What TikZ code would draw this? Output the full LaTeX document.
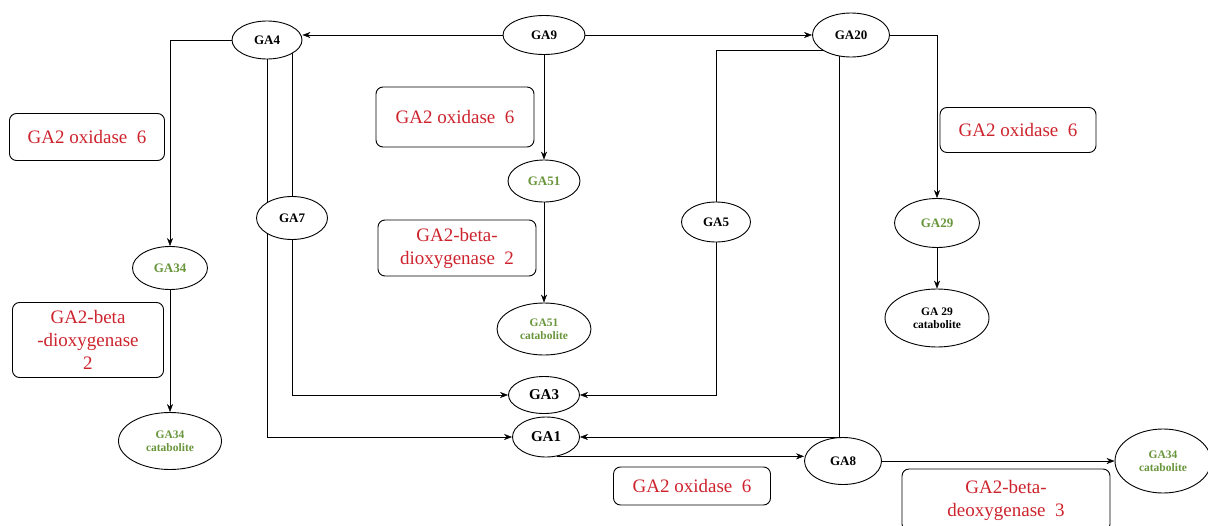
\documentclass[tikz,border=0pt]{standalone}
\usepackage{fontspec}
\setmainfont{Liberation Serif}
\usetikzlibrary{shapes.geometric,arrows.meta,backgrounds}
\definecolor{enzred}{RGB}{205,35,45}
\definecolor{gagreen}{RGB}{105,150,60}

\begin{document}
\begin{tikzpicture}[
    x=1pt, y=-1pt, >={Stealth[length=8pt,width=6pt]}, line width=0.9pt,
    ga/.style={draw, ellipse, fill=white, inner sep=0pt, align=center,
      font=\fontsize{13}{14}\selectfont\bfseries, minimum width=72pt, minimum height=42pt},
    gabig/.style={ga, font=\fontsize{15}{16}\selectfont\bfseries},
    gacat/.style={ga, font=\fontsize{11.5}{13.5}\selectfont\bfseries},
    grn/.style={text=gagreen},
    enz/.style={draw, rounded corners=7pt, text=enzred, align=center, inner sep=0pt,
      font=\fontsize{19}{23}\selectfont}]
  \useasboundingbox (0,0) rectangle (1208,525);

  % gibberellins
  \node[ga, minimum width=82pt, minimum height=39pt] (GA9) at (544,35) {GA9};
  \node[ga, minimum width=70pt, minimum height=38pt] (GA4) at (267,40) {GA4};
  \node[ga, minimum width=77pt, minimum height=44pt] (GA20) at (851,35) {GA20};
  \node[ga, grn] (GA51) at (544,181) {GA51};
  \node[ga, minimum width=71pt, minimum height=43pt] (GA7) at (292,218) {GA7};
  \node[ga, minimum width=69pt, minimum height=40pt] (GA5) at (716,222) {GA5};
  \node[ga, grn, minimum width=85pt, minimum height=49pt] (GA29) at (937,223) {GA29};
  \node[ga, grn, minimum width=75pt, minimum height=43pt] (GA34) at (170,268) {GA34};
  \node[gacat, grn, minimum width=94pt, minimum height=52pt] (GA51c) at (544,329) {GA51\\catabolite};
  \node[gacat, minimum width=104pt, minimum height=58pt] (GA29c) at (937,318) {GA 29\\catabolite};
  \node[gacat, grn, minimum width=103pt, minimum height=57pt] (GA34c) at (170,441) {GA34\\catabolite};
  \node[gabig, minimum width=71pt, minimum height=37pt] (GA3) at (544,395) {GA3};
  \node[gabig, minimum width=67pt, minimum height=40pt] (GA1) at (546,437) {GA1};
  \node[ga, minimum width=77pt, minimum height=47pt] (GA8) at (843,461) {GA8};
  \node[gacat, grn, minimum width=96pt, minimum height=64pt] (GA34r) at (1163,461) {GA34\\catabolite};

  % enzymes
  \node[enz, minimum width=155pt, minimum height=47pt] (ox1) at (87,137) {GA2 oxidase~ 6};
  \node[enz, minimum width=158pt, minimum height=60pt] (ox2) at (455,117) {GA2 oxidase~ 6};
  \node[enz, minimum width=158pt, minimum height=56pt] (dio1) at (457,248) {GA2-beta-\\dioxygenase~ 2};
  \node[enz, minimum width=151pt, minimum height=75pt] (dio2) at (88,340) {GA2-beta\\-dioxygenase\\2};
  \node[enz, minimum width=156pt, minimum height=45pt] (ox3) at (1018,130) {GA2 oxidase~ 6};
  \node[enz, minimum width=157pt, minimum height=38pt] (ox4) at (692,486) {GA2 oxidase~ 6};
  \node[enz, minimum width=208pt, minimum height=62pt] (deo) at (1006,500) {GA2-beta-\\deoxygenase~ 3};

  \begin{pgfonlayer}{background}
    \draw[->] (GA9.west) -- (GA9.west -| GA4.east);
    \draw[->] (GA9.east) -- (GA20.west);
    \draw[->] (GA9) -- (GA51);
    \draw[->] (GA51) -- (GA51c);
    \draw[->] (GA4.west) -| (GA34.north);
    \draw[->] (GA34) -- (GA34c);
    \draw[->] (GA4.center) |- (GA1.west);
    \draw (GA4.center -| GA7.north) -- (GA7.north);
    \draw[->] (GA7.center) |- (GA3.west);
    \draw ([yshift=-15pt]GA20.center) -| (GA5.center);
    \draw[->] (GA5.center) |- (GA3.east);
    \draw[->] ([xshift=-12pt]GA20.center) |- (GA1.east);
    \draw[->] (GA20.east) -| (GA29.north);
    \draw[->] (GA29) -- (GA29c);
    \draw[->] (GA1.-60) -- (GA1.-60 -| GA8.west);
    \draw[->] (GA8.east) -- (GA34r.west);
  \end{pgfonlayer}
\end{tikzpicture}
\end{document}
